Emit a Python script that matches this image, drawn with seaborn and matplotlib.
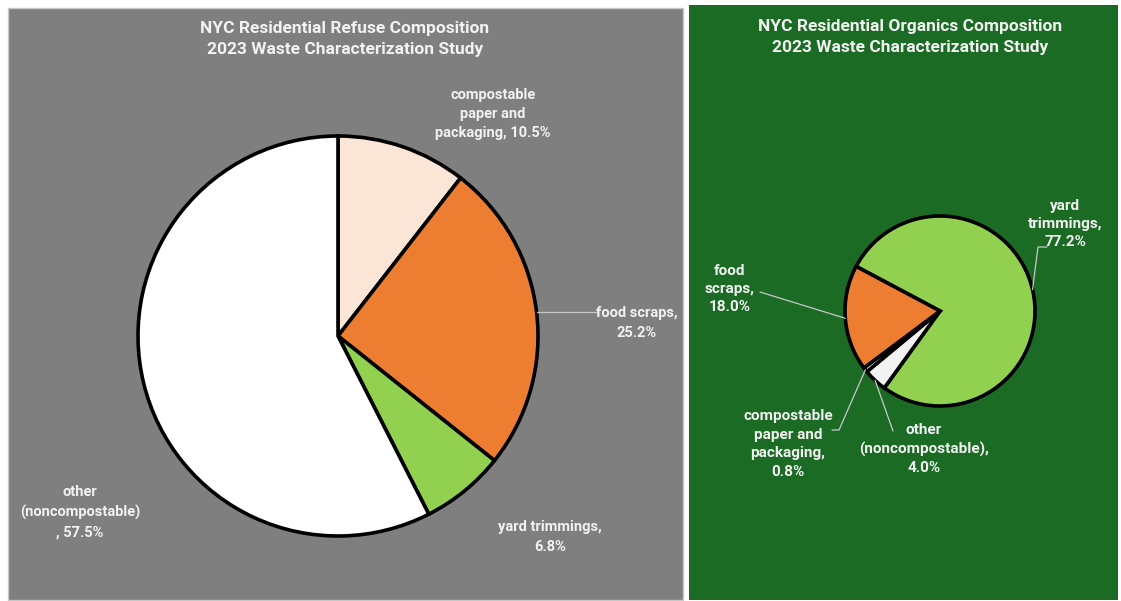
import numpy as np
import matplotlib
matplotlib.use("Agg")
import matplotlib.pyplot as plt
from matplotlib.patches import Rectangle
import seaborn as sns

# ---- data ----
refuse_labels = ["compostable\npaper and\npackaging, 10.5%", "food scraps,\n25.2%",
                 "yard trimmings,\n6.8%", "other\n(noncompostable)\n, 57.5%"]
refuse_values = [10.5, 25.2, 6.8, 57.5]
refuse_colors = ["#fbe5d6", "#ed7d31", "#92d050", "#ffffff"]

organics_labels = ["yard\ntrimmings,\n77.2%", "other\n(noncompostable),\n4.0%",
                   "compostable\npaper and\npackaging,\n0.8%", "food\nscraps,\n18.0%"]
organics_values = [77.2, 4.0, 0.8, 18.0]
organics_colors = ["#92d050", "#f2f2f2", "#ffffff", "#ed7d31"]

title_left = "NYC Residential Refuse Composition\n2023 Waste Characterization Study"
title_right = "NYC Residential Organics Composition\n2023 Waste Characterization Study"

sns.set_theme(style="white")
FONT = ["Roboto", "DejaVu Sans"]
plt.rcParams["font.family"] = FONT

W, H = 1121, 601
fig = plt.figure(figsize=(W / 100, H / 100), dpi=100)
fig.patch.set_facecolor("white")
ax = fig.add_axes([0, 0, 1, 1])


def Y(y):
    return H - y


# panel backgrounds
ax.add_patch(Rectangle((8, Y(600)), 675, 592, facecolor="#7f7f7f", edgecolor="#c8c8c8", lw=1.0, zorder=0))
ax.add_patch(Rectangle((689, Y(600)), 429, 595, facecolor="#1c6b25", edgecolor="none", zorder=0))

txt = "#f2f2f2"
tkw = dict(color=txt, fontweight="bold", ha="center", va="center", family=FONT)

# titles
ax.text(345, Y(39), title_left, fontsize=12.5, linespacing=1.45, **tkw)
ax.text(910, Y(37), title_right, fontsize=12.5, linespacing=1.45, **tkw)

# left pie
cL, rL = (338, Y(336)), 200
wedgesL, _ = ax.pie(refuse_values, colors=refuse_colors, startangle=90, counterclock=False,
                    center=cL, radius=rL, frame=True,
                    wedgeprops=dict(edgecolor="black", linewidth=2.6))
# right pie
cR, rR = (940, Y(311)), 95
wedgesR, _ = ax.pie(organics_values, colors=organics_colors, startangle=152, counterclock=False,
                    center=cR, radius=rR, frame=True,
                    wedgeprops=dict(edgecolor="black", linewidth=2.6))


def edge_point(w, c, r):
    ang = np.deg2rad((w.theta1 + w.theta2) / 2)
    return c[0] + r * np.cos(ang), c[1] + r * np.sin(ang)


fsL = 10.5
fsR = 11
lsL = 1.5
lsR = 1.4
lkw = dict(color="#c8c8c8", lw=0.9, zorder=1)

# left labels
ax.text(493, Y(114), refuse_labels[0], fontsize=fsL, linespacing=lsL, **tkw)
ax.text(637, Y(323), refuse_labels[1], fontsize=fsL, linespacing=lsL, **tkw)
ax.text(550, Y(537), refuse_labels[2], fontsize=fsL, linespacing=lsL, **tkw)
ax.text(80, Y(512), refuse_labels[3], fontsize=fsL, linespacing=lsL, **tkw)
x0, y0 = edge_point(wedgesL[1], cL, rL)
ax.plot([x0, 598], [y0, y0], **lkw)

# right labels
ax.text(1065, Y(224), organics_labels[0], fontsize=fsR, linespacing=lsR, **tkw)
ax.text(924, Y(449), organics_labels[1], fontsize=fsR, linespacing=lsR, **tkw)
ax.text(788, Y(444), organics_labels[2], fontsize=fsR, linespacing=lsR, **tkw)
ax.text(730, Y(289), organics_labels[3], fontsize=fsR, linespacing=lsR, **tkw)

x0, y0 = edge_point(wedgesR[0], cR, rR)
ax.plot([x0, 1038, 1047], [y0, Y(247), Y(247)], **lkw)
x0, y0 = edge_point(wedgesR[1], cR, rR)
ax.plot([x0, 893], [y0, Y(431)], **lkw)
x0, y0 = edge_point(wedgesR[2], cR, rR)
ax.plot([x0, 839, 832], [y0, Y(430), Y(430)], **lkw)
x0, y0 = edge_point(wedgesR[3], cR, rR)
ax.plot([x0, 760], [y0, Y(292)], **lkw)

ax.set_xlim(0, W)
ax.set_ylim(0, H)
ax.set_aspect("auto")
ax.axis("off")

fig.savefig("out.png", dpi=100, facecolor="white")
